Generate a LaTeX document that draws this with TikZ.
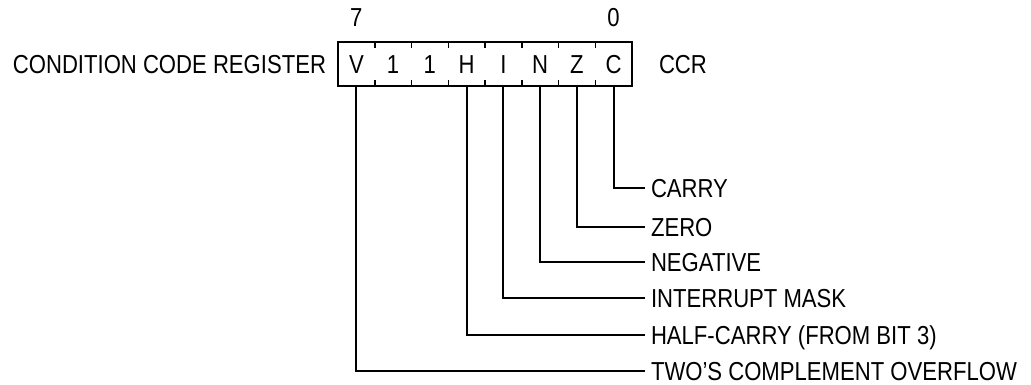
\documentclass[tikz,border=0pt]{standalone}
\usepackage{fontspec}
\setmainfont[FakeStretch=0.85]{Liberation Sans}
\begin{document}
\begin{tikzpicture}[x=1pt,y=-1pt, line width=2pt,
  txt/.style={font=\fontsize{26}{30}\selectfont, inner sep=0pt, text height=18.6pt, text depth=0pt},
  cell/.style={txt, minimum width=36.75pt, minimum height=44pt},
  desc/.style={txt, anchor=west, inner xsep=5pt},
  tick/.style={line width=1.5pt},
  lead/.style={line width=2pt}]
\useasboundingbox (0,0) rectangle (1031,385);
\node[draw, minimum width=294pt, minimum height=44pt, inner sep=0pt] (reg) at (485,64) {};
\node[cell] (cV) at (356.375,64) {V};
\node[cell] (c6) at (393.125,64) {1};
\node[cell] (c5) at (429.875,64) {1};
\node[cell] (cH) at (466.625,64) {H};
\node[cell] (cI) at (503.375,64) {I};
\node[cell] (cN) at (540.125,64) {N};
\node[cell] (cZ) at (576.875,64) {Z};
\node[cell] (cC) at (613.625,64) {C};
\foreach \k in {1,...,7}
  \draw[tick] ({338+36.75*\k},42) -- ++(0,6) ({338+36.75*\k},86) -- ++(0,-6);
\node[txt] (b7) at (356.375,17) {7};
\node[txt] (b0) at (613.625,17) {0};
\node[txt, anchor=east] (ccrname) at (327,64) {CONDITION CODE REGISTER};
\node[txt, anchor=west] (ccr) at (658,64) {CCR};
\node[desc] (carry) at (645,188) {CARRY};
\node[desc] (zero) at (645,227) {ZERO};
\node[desc] (neg) at (645,262) {NEGATIVE};
\node[desc] (imask) at (645,298) {INTERRUPT MASK};
\node[desc] (half) at (645,335) {HALF-CARRY (FROM BIT 3)};
\node[desc] (twos) at (645,371) {TWO'S COMPLEMENT OVERFLOW};
\draw[lead] (cC.south) |- (carry.west);
\draw[lead] (cZ.south) |- (zero.west);
\draw[lead] (cN.south) |- (neg.west);
\draw[lead] (cI.south) |- (imask.west);
\draw[lead] (cH.south) |- (half.west);
\draw[lead] (cV.south) |- (twos.west);
\end{tikzpicture}
\end{document}
